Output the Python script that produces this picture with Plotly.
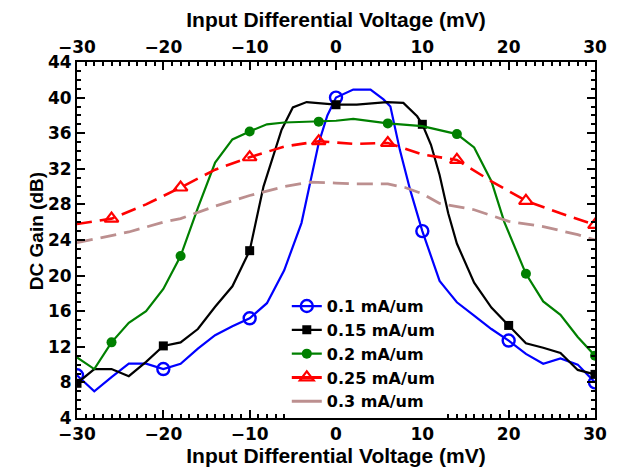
import plotly.graph_objects as go

# ---- data ----
x_01 = [-30, -28, -26, -24, -22, -20, -18, -16, -14, -12, -10, -8, -6, -5, -4, -3, -2, -1, 0, 2, 4, 5.5, 6.3, 7.4, 8.6, 10, 12, 13, 14, 16, 18, 20, 22, 24, 26, 28, 30]
y_01 = [8.8, 7.0, 8.6, 10.1, 10.1, 9.5, 10.1, 11.8, 13.3, 14.3, 15.2, 16.9, 20.6, 23.3, 25.9, 30.4, 34.9, 38.0, 40.0, 40.9, 40.9, 39.8, 39.0, 34.1, 29.6, 25.0, 19.4, 18.2, 17.0, 15.5, 14.0, 12.7, 11.2, 10.1, 10.7, 10.0, 8.0]
mk_01 = [-30, -20, -10, 0, 10, 20, 30]

x_015 = [-30, -28, -26, -24, -22, -20, -18, -16, -14, -12, -10, -8.4, -6.3, -5, -3.4, -2, 0, 2.4, 5.9, 7.8, 9.4, 10, 11, 12, 13, 14, 16, 18, 20, 22, 24, 26, 28, 30]
y_015 = [7.9, 9.5, 9.5, 8.7, 10.3, 12.1, 12.5, 14.0, 16.5, 18.8, 22.8, 30.0, 36.4, 38.9, 39.5, 39.4, 39.2, 39.2, 39.5, 39.4, 37.9, 37.0, 34.7, 31.3, 27.0, 23.6, 19.2, 16.4, 14.4, 12.4, 11.9, 11.3, 9.4, 8.9]
mk_015 = [-30, -20, -10, 0, 10, 20, 30]

x_02 = [-30, -28, -26, -24, -22, -20, -18, -16, -14, -12, -10, -8, -6, -2, 0, 2, 6, 10, 14, 16, 18, 19.5, 22, 24, 26, 28, 30]
y_02 = [10.8, 9.5, 12.5, 14.7, 16.0, 18.5, 22.2, 27.6, 32.7, 35.3, 36.2, 37.0, 37.2, 37.3, 37.4, 37.6, 37.1, 36.8, 35.9, 34.4, 30.6, 26.0, 20.2, 17.1, 15.6, 13.1, 11.0]
mk_02 = [-26, -18, -10, -2, 6, 14, 22, 30]

x_025 = [-30, -26, -22, -18, -14, -10, -6, -2, 2, 6, 10, 14, 18, 22, 26, 30]
y_025 = [25.8, 26.4, 28.0, 29.9, 31.9, 33.3, 34.5, 35.1, 34.8, 34.9, 33.6, 33.0, 30.6, 28.4, 27.0, 25.7]
mk_025 = [-26, -18, -10, -2, 6, 14, 22, 30]

x_03 = [-30, -26, -24, -20, -18, -14, -10, -6, -3, 0, 2, 6, 8, 10, 12, 16, 20, 24, 28, 30]
y_03 = [23.7, 24.5, 24.9, 26.0, 26.4, 27.8, 29.0, 30.0, 30.5, 30.4, 30.3, 30.3, 29.9, 29.2, 28.1, 27.4, 26.1, 25.5, 24.6, 24.0]

labels = ["0.1 mA/um", "0.15 mA/um", "0.2 mA/um", "0.25 mA/um", "0.3 mA/um"]
x_ticks = [-30, -20, -10, 0, 10, 20, 30]
y_ticks = [4, 8, 12, 16, 20, 24, 28, 32, 36, 40, 44]

TICKFONT = "DejaVu Sans"
TITLEFONT = "Liberation Sans"

def pick(xs, ys, sel):
    d = dict(zip(xs, ys))
    return sel, [d[v] for v in sel]

fig = go.Figure()

series = [
    (x_01, y_01, mk_01, labels[0], "#0000FF", "solid", 2.2, dict(symbol="circle-open", size=12, color="#0000FF", line=dict(width=2.4, color="#0000FF"))),
    (x_015, y_015, mk_015, labels[1], "#000000", "solid", 2.2, dict(symbol="square", size=9, color="#000000")),
    (x_02, y_02, mk_02, labels[2], "#008000", "solid", 2.2, dict(symbol="circle", size=10, color="#008000")),
    (x_025, y_025, mk_025, labels[3], "#FF0000", "15px,8px", 2.6, dict(symbol="triangle-up-open", size=12, color="#FF0000", line=dict(width=2.2, color="#FF0000"))),
    (x_03, y_03, None, labels[4], "#BC8F8F", "16px,8px", 2.8, None),
]

for xs, ys, mk, name, col, dash, w, marker in series:
    fig.add_trace(go.Scatter(x=xs, y=ys, mode="lines", line=dict(color=col, width=w, dash=dash),
                             showlegend=False, legendgroup=name, hoverinfo="skip"))
    if mk is not None:
        mx, my = pick(xs, ys, mk)
        fig.add_trace(go.Scatter(x=mx, y=my, mode="markers", marker=marker,
                                 showlegend=False, legendgroup=name))
    fig.add_trace(go.Scatter(x=[None], y=[None], name=name,
                             mode="lines+markers" if marker else "lines",
                             line=dict(color=col, width=w if dash == "solid" else 3, dash="solid"),
                             marker=marker, legendgroup=name, showlegend=True))

# invisible trace on top axis
fig.add_trace(go.Scatter(x=[-30, 30], y=[None, None], xaxis="x2", showlegend=False, hoverinfo="skip"))

tick_font = dict(family=TICKFONT, size=17, color="black", weight="bold")
title_font = dict(family=TITLEFONT, size=21, color="black", weight="bold")

common_x = dict(range=[-30, 30], tickvals=x_ticks, ticks="inside", ticklen=8, tickwidth=2,
                tickcolor="black", showline=True, linecolor="black", linewidth=2,
                showgrid=False, zeroline=False, tickfont=tick_font,
                minor=dict(dtick=1, ticks="inside", ticklen=4, tickwidth=1.5, tickcolor="black"))

fig.update_layout(
    width=618, height=475,
    margin=dict(l=77, r=23, t=62, b=57),
    paper_bgcolor="white", plot_bgcolor="white",
    xaxis=dict(**common_x, side="bottom", mirror=False,
               title=dict(text="Input Differential Voltage (mV)", font=title_font, standoff=4)),
    xaxis2=dict(**common_x, side="top", overlaying="x", matches="x",
                title=dict(text="Input Differential Voltage (mV)", font=title_font, standoff=4)),
    yaxis=dict(range=[4, 44], tickvals=y_ticks, ticks="inside", ticklen=8, tickwidth=2,
               tickcolor="black", showline=True, linecolor="black", linewidth=2, mirror="ticks",
               showgrid=False, zeroline=False, tickfont=tick_font,
               minor=dict(dtick=1, ticks="inside", ticklen=4, tickwidth=1.5, tickcolor="black")),
    legend=dict(x=0.405, y=0.362, xanchor="left", yanchor="top", bgcolor="white",
                font=dict(family=TICKFONT, size=16, color="black", weight="bold"),
                tracegroupgap=0, itemwidth=30, borderwidth=0),
    showlegend=True,
    annotations=[dict(text="DC Gain (dB)", textangle=-90, xref="paper", yref="paper",
                      x=-0.079, y=0.525, xanchor="center", yanchor="middle", showarrow=False,
                      font=dict(family=TITLEFONT, size=19, color="black", weight="bold"))],
)

fig.write_html("out.html")
